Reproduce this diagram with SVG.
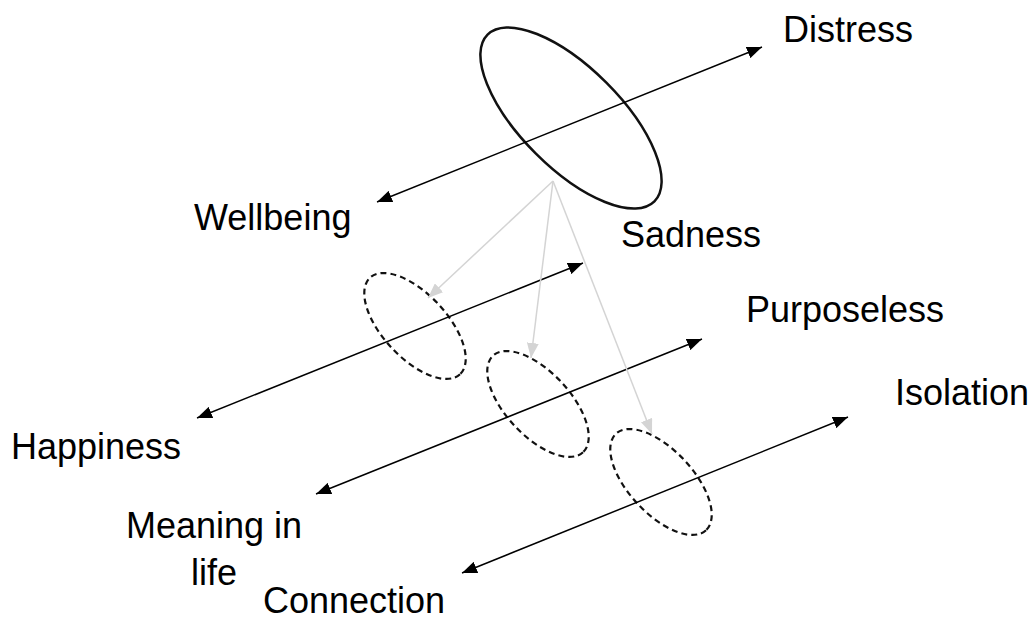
<svg xmlns="http://www.w3.org/2000/svg" width="1034" height="621" viewBox="0 0 1034 621">
  <style>
    .lbl { font-family: "Liberation Sans", Arial, Helvetica, sans-serif; font-size: 36px; fill: #000; }
    .axis { stroke: #000; stroke-width: 1.5; fill: none; }
    .link { stroke: #d4d4d4; stroke-width: 1.5; fill: none; }
    .dash { stroke: #111; stroke-width: 2.2; fill: none; stroke-dasharray: 6 4; }
    .main { stroke: #111; stroke-width: 2.5; fill: none; }
  </style>
  <defs>
    <marker id="ah" markerUnits="userSpaceOnUse" markerWidth="16" markerHeight="12" refX="15" refY="6" orient="auto-start-reverse">
      <path d="M0,0 L15,6 L0,12 z" fill="#000"/>
    </marker>
    <marker id="ahg" markerUnits="userSpaceOnUse" markerWidth="16" markerHeight="12" refX="15" refY="6" orient="auto">
      <path d="M0,0 L15,6 L0,12 z" fill="#d4d4d4"/>
    </marker>
  </defs>
  <rect width="1034" height="621" fill="#fff"/>

  <g id="sadness">
    <ellipse class="main" cx="571" cy="118" rx="118" ry="50" transform="rotate(45 571 118)"/>
    <text class="lbl" x="621" y="247">Sadness</text>
  </g>
  <g id="happiness-ellipse">
    <ellipse class="dash" cx="415" cy="326" rx="66" ry="32" transform="rotate(47 415 326)"/>
  </g>
  <g id="meaning-ellipse">
    <ellipse class="dash" cx="538" cy="404" rx="66" ry="32" transform="rotate(47 538 404)"/>
  </g>
  <g id="connection-ellipse">
    <ellipse class="dash" cx="661" cy="482" rx="66" ry="32" transform="rotate(47 661 482)"/>
  </g>

  <g id="connectors">
    <line class="axis" x1="377" y1="202" x2="762" y2="47" marker-start="url(#ah)" marker-end="url(#ah)"/>
    <line class="axis" x1="197" y1="418" x2="583" y2="263" marker-start="url(#ah)" marker-end="url(#ah)"/>
    <line class="axis" x1="316" y1="494" x2="702" y2="339" marker-start="url(#ah)" marker-end="url(#ah)"/>
    <line class="axis" x1="462" y1="573" x2="848" y2="417" marker-start="url(#ah)" marker-end="url(#ah)"/>
    <line class="link" x1="553" y1="181" x2="428" y2="298" marker-end="url(#ahg)"/>
    <line class="link" x1="553" y1="181" x2="531" y2="358" marker-end="url(#ahg)"/>
    <line class="link" x1="553" y1="181" x2="652" y2="434" marker-end="url(#ahg)"/>
  </g>

  <g id="labels">
    <text class="lbl" x="783" y="42">Distress</text>
    <text class="lbl" x="194" y="230">Wellbeing</text>
    <text class="lbl" x="746" y="322">Purposeless</text>
    <text class="lbl" x="11" y="459">Happiness</text>
    <text class="lbl" x="895" y="405">Isolation</text>
    <text class="lbl" x="214" y="538" text-anchor="middle">Meaning in</text>
    <text class="lbl" x="214" y="585" text-anchor="middle">life</text>
    <text class="lbl" x="263" y="613">Connection</text>
  </g>
</svg>
